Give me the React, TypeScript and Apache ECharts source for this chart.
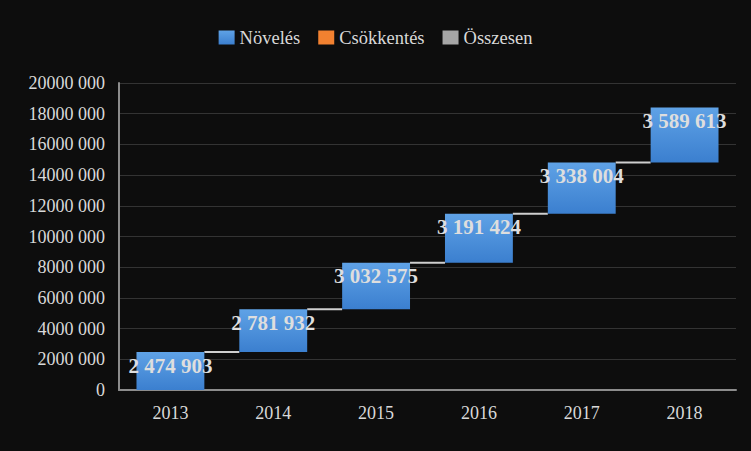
import React, { useEffect, useRef } from "react";
import * as echarts from "echarts";

const categories = ["2013", "2014", "2015", "2016", "2017", "2018"];
const increases = [2474903, 2781932, 3032575, 3191424, 3338004, 3589613];
const decreases: number[] = [];
const totals: number[] = [];
const legendNames = ["Növelés", "Csökkentés", "Összesen"];

const bases: number[] = [];
const tops: number[] = [];
{
  let acc = 0;
  for (const v of increases) {
    bases.push(acc);
    acc += v;
    tops.push(acc);
  }
}

const fmtSpaced = (v: number) => String(Math.round(v)).replace(/\B(?=(\d{3})+(?!\d))/g, " ");
const fmtAxis = (v: number) => (v === 0 ? "0" : `${Math.round(v / 1000)} 000`);

const FONT = "Liberation Serif";
const TEXT = "#d9d9d9";
const BAR_RATIO = 0.66;

export default function App() {
  const ref = useRef<HTMLDivElement>(null);
  useEffect(() => {
    if (!ref.current) return;
    const chart = echarts.init(ref.current, undefined, { renderer: "svg" });
    const blue = new echarts.graphic.LinearGradient(0, 0, 0, 1, [
      { offset: 0, color: "#5fa2e6" },
      { offset: 1, color: "#3b7fcf" },
    ]);
    const connectorData = tops.slice(0, -1).map((t, i) => [i, t]);
    chart.setOption({
      animation: false,
      backgroundColor: "#0d0d0d",
      textStyle: { fontFamily: FONT },
      legend: {
        data: legendNames,
        top: 23,
        left: "center",
        itemWidth: 16,
        itemHeight: 14,
        itemGap: 18,
        icon: "rect",
        textStyle: { color: TEXT, fontSize: 18.5, fontFamily: FONT },
      },
      grid: { left: 119, right: 15, top: 83, bottom: 61, containLabel: false },
      xAxis: {
        type: "category",
        data: categories,
        axisLine: { show: true, lineStyle: { color: "#8c8c8c", width: 2 } },
        axisTick: { show: false },
        axisLabel: { color: TEXT, fontSize: 18, fontFamily: FONT, margin: 14 },
      },
      yAxis: {
        type: "value",
        min: 0,
        max: 20000000,
        interval: 2000000,
        axisLine: { show: true, lineStyle: { color: "#8c8c8c", width: 2 } },
        axisTick: { show: false },
        splitLine: { lineStyle: { color: "#333333", width: 1 } },
        axisLabel: { color: TEXT, fontSize: 18, fontFamily: FONT, margin: 14, formatter: fmtAxis },
      },
      series: [
        {
          name: "base",
          type: "bar",
          stack: "w",
          barWidth: `${BAR_RATIO * 100}%`,
          itemStyle: { color: "transparent" },
          emphasis: { disabled: true },
          data: bases,
        },
        {
          name: "Növelés",
          type: "bar",
          stack: "w",
          barWidth: `${BAR_RATIO * 100}%`,
          itemStyle: { color: blue },
          label: {
            show: true,
            position: "insideTop",
            distance: 3,
            color: "#dedede",
            fontSize: 21,
            fontWeight: "bold",
            fontFamily: FONT,
            formatter: (p: any) => fmtSpaced(p.value),
          },
          data: increases,
        },
        {
          name: "Csökkentés",
          type: "bar",
          stack: "w",
          itemStyle: { color: "#f28130" },
          data: decreases,
        },
        {
          name: "Összesen",
          type: "bar",
          stack: "w",
          itemStyle: { color: "#a6a6a6" },
          data: totals,
        },
        {
          name: "connectors",
          type: "custom",
          z: 1,
          silent: true,
          data: connectorData,
          renderItem: (params: any, api: any) => {
            const i = api.value(0);
            const v = api.value(1);
            const pt = api.coord([i, v]);
            const band = api.size([1, 0])[0];
            const half = (band * BAR_RATIO) / 2;
            return {
              type: "line",
              shape: { x1: pt[0] + half, y1: pt[1], x2: pt[0] + band - half, y2: pt[1] },
              style: { stroke: "#cfcfcf", lineWidth: 2 },
            };
          },
        },
      ],
    });
    return () => chart.dispose();
  }, []);
  return <div ref={ref} style={{ width: 751, height: 451, position: "absolute", left: 0, top: 0 }} />;
}
